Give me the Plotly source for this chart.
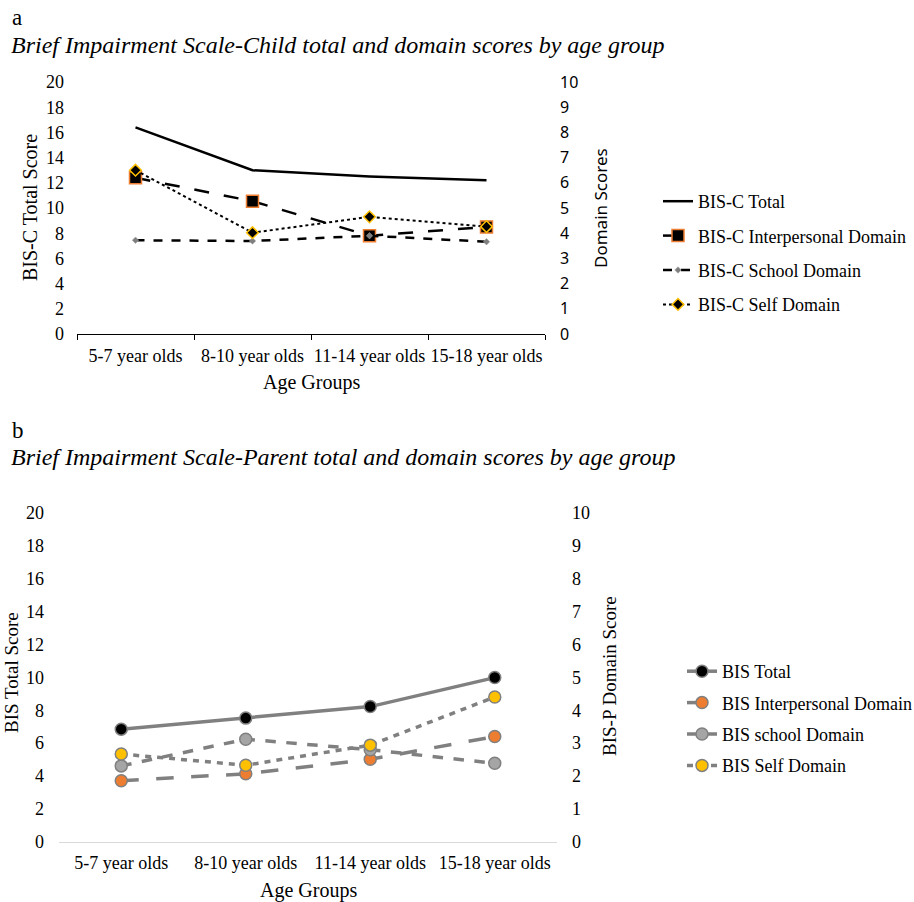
import plotly.graph_objects as go

ages = ["5-7 year olds", "8-10 year olds", "11-14 year olds", "15-18 year olds"]

# Panel a (child)
c_total = [16.4, 13.0, 12.5, 12.2]
c_interpersonal = [6.2, 5.27, 3.9, 4.25]
c_school = [3.72, 3.69, 3.9, 3.66]
c_self = [6.5, 4.02, 4.65, 4.26]

# Panel b (parent)
p_total = [6.85, 7.52, 8.22, 9.98]
p_interpersonal = [1.86, 2.07, 2.51, 3.2]
p_school = [2.31, 3.12, 2.8, 2.39]
p_self = [2.67, 2.33, 2.94, 4.4]

W, H = 914, 902
def px(x): return x / W
def py(y): return 1 - y / H

SERIF = "Liberation Serif"
SANS = "Noto Sans"
ORANGE = "#ED7D31"
YELLOW = "#FFC000"
GRAY = "#808080"

fig = go.Figure()

# ---- Panel a ----
fig.add_trace(go.Scatter(x=ages, y=c_total, name="BIS-C Total", mode="lines",
                         line=dict(color="black", width=2.5), xaxis="x", yaxis="y",
                         legend="legend", legendgroup="a1"))
fig.add_trace(go.Scatter(x=ages, y=c_interpersonal, name="BIS-C Interpersonal Domain", mode="lines+markers",
                         line=dict(color="black", width=2.5, dash="longdash"),
                         marker=dict(symbol="square", size=12, color="black", line=dict(color=ORANGE, width=1.5)),
                         xaxis="x", yaxis="y2", legend="legend", legendgroup="a2"))
fig.add_trace(go.Scatter(x=ages, y=c_school, name="BIS-C School Domain", mode="lines+markers",
                         line=dict(color="black", width=2.5, dash="dash"),
                         marker=dict(symbol="diamond", size=5, color="#7f7f7f", line=dict(color="#a0a0a0", width=0.5)),
                         xaxis="x", yaxis="y2", legend="legend", legendgroup="a3"))
fig.add_trace(go.Scatter(x=ages, y=c_self, name="BIS-C Self Domain", mode="lines+markers",
                         line=dict(color="black", width=2, dash="dot"),
                         marker=dict(symbol="diamond", size=9, color="black", line=dict(color=YELLOW, width=1.5)),
                         xaxis="x", yaxis="y2", legend="legend", legendgroup="a4"))

# ---- Panel b ----
fig.add_trace(go.Scatter(x=ages, y=p_total, name="BIS Total", mode="lines+markers",
                         line=dict(color=GRAY, width=3.5),
                         marker=dict(symbol="circle", size=12, color="black", line=dict(color=GRAY, width=1.5)),
                         xaxis="x3", yaxis="y3", legend="legend2", legendgroup="b1"))
fig.add_trace(go.Scatter(x=ages, y=p_interpersonal, name="BIS Interpersonal Domain", mode="lines+markers",
                         line=dict(color=GRAY, width=3.5, dash="longdash"),
                         marker=dict(symbol="circle", size=12, color=ORANGE, line=dict(color=GRAY, width=1.5)),
                         xaxis="x3", yaxis="y4", legend="legend2", legendgroup="b2"))
fig.add_trace(go.Scatter(x=ages, y=p_school, name="BIS school Domain", mode="lines+markers",
                         line=dict(color=GRAY, width=3.5, dash="dash"),
                         marker=dict(symbol="circle", size=12, color="#A5A5A5", line=dict(color=GRAY, width=1.5)),
                         xaxis="x3", yaxis="y4", legend="legend2", legendgroup="b3"))
fig.add_trace(go.Scatter(x=ages, y=p_self, name="BIS Self Domain", mode="lines+markers",
                         line=dict(color=GRAY, width=3.5, dash="6px,6px"),
                         marker=dict(symbol="circle", size=12, color=YELLOW, line=dict(color=GRAY, width=1.5)),
                         xaxis="x3", yaxis="y4", legend="legend2", legendgroup="b4"))

tickfont_serif = dict(family=SERIF, size=18, color="black")
common = dict(automargin=False, showgrid=False, zeroline=False)

fig.update_layout(
    width=W, height=H,
    margin=dict(l=0, r=0, t=0, b=0, autoexpand=False),
    paper_bgcolor="white", plot_bgcolor="white",
    font=dict(family=SERIF, color="black"),
    xaxis=dict(domain=[px(77), px(545)], anchor="y", type="category", range=[-0.5, 3.5],
               showline=True, linecolor="black", linewidth=1.2, ticks="outside", tickson="boundaries",
               ticklen=5, tickcolor="black", tickfont=tickfont_serif, tickangle=0,
               ticklabelstandoff=5, **common),
    yaxis=dict(domain=[py(334), py(82)], anchor="x", range=[0, 20], dtick=2,
               showline=False, tickfont=tickfont_serif, ticklabelstandoff=12, **common),
    yaxis2=dict(overlaying="y", side="right", anchor="x", range=[0, 10], dtick=1,
                showline=False, tickfont=dict(family=SANS, size=16, color="black"),
                ticklabelstandoff=14, **common),
    xaxis3=dict(domain=[px(59), px(557)], anchor="y3", type="category", range=[-0.5, 3.5],
                showline=True, linecolor="#d9d9d9", linewidth=1.2, ticks="",
                tickfont=tickfont_serif, tickangle=0, ticklabelstandoff=4, **common),
    yaxis3=dict(domain=[py(842), py(512.5)], anchor="x3", range=[0, 20], dtick=2,
                showline=False, tickfont=tickfont_serif, ticklabelstandoff=14, **common),
    yaxis4=dict(overlaying="y3", side="right", anchor="x3", range=[0, 10], dtick=1,
                showline=False, tickfont=tickfont_serif, ticklabelstandoff=14, **common),
    legend=dict(x=px(658), y=py(183), xanchor="left", yanchor="top", font=dict(family=SERIF, size=18),
                tracegroupgap=8, bgcolor="rgba(0,0,0,0)"),
    legend2=dict(x=px(682), y=py(653), xanchor="left", yanchor="top", font=dict(family=SERIF, size=18),
                 tracegroupgap=5, bgcolor="rgba(0,0,0,0)"),
    showlegend=True,
)

ann = [
    dict(text="a", x=px(10), y=py(18), font=dict(family=SERIF, size=23)),
    dict(text="<i>Brief Impairment Scale-Child total and domain scores by age group</i>", x=px(9), y=py(45),
         font=dict(family=SERIF, size=24)),
    dict(text="b", x=px(10), y=py(431), font=dict(family=SERIF, size=23)),
    dict(text="<i>Brief Impairment Scale-Parent total and domain scores by age group</i>", x=px(9), y=py(457),
         font=dict(family=SERIF, size=24)),
]
for a in ann:
    fig.add_annotation(xref="paper", yref="paper", xanchor="left", yanchor="middle", showarrow=False, **a)

titles = [
    dict(text="BIS-C Total Score", x=px(30), y=py(208), textangle=-90, font=dict(family=SERIF, size=20)),
    dict(text="Domain Scores", x=px(600), y=py(208), textangle=-90, font=dict(family=SANS, size=17)),
    dict(text="Age Groups", x=px(311), y=py(383), textangle=0, font=dict(family=SERIF, size=20)),
    dict(text="BIS Total Score", x=px(11), y=py(673), textangle=-90, font=dict(family=SERIF, size=19)),
    dict(text="BIS-P Domain Score", x=px(609), y=py(676), textangle=-90, font=dict(family=SERIF, size=19)),
    dict(text="Age Groups", x=px(308), y=py(890), textangle=0, font=dict(family=SERIF, size=20)),
]
for t in titles:
    fig.add_annotation(xref="paper", yref="paper", xanchor="center", yanchor="middle", showarrow=False, **t)

fig.write_html("out.html", config={"displayModeBar": False},
               post_script="document.documentElement.style.margin='0';document.body.style.margin='0';"
                           "document.body.style.overflow='hidden';")
